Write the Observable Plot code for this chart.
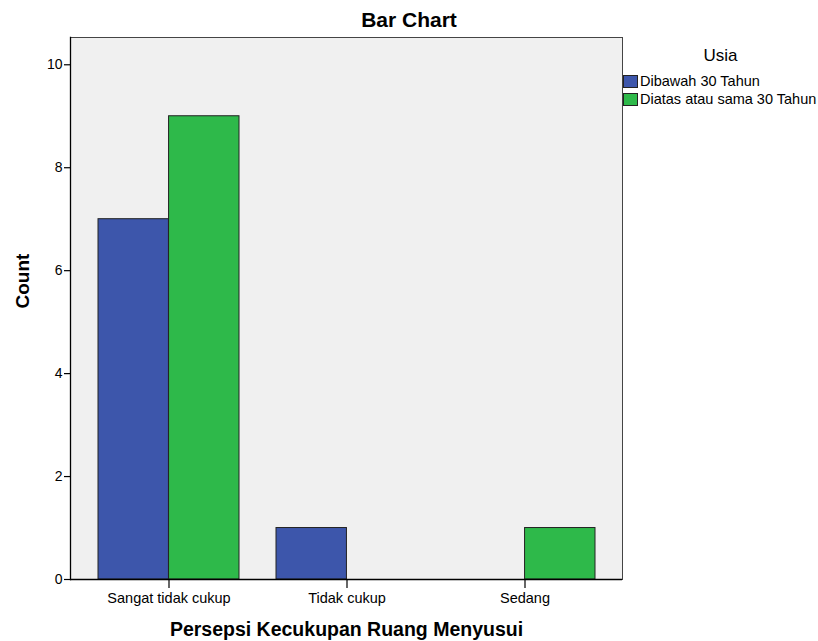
<!DOCTYPE html>
<html>
<head>
<meta charset="utf-8">
<script src="https://cdn.jsdelivr.net/npm/d3@7"></script>
<script src="https://cdn.jsdelivr.net/npm/@observablehq/plot@0.6"></script>
<style>
  html, body { margin: 0; padding: 0; background: #fff; }
  body { font-family: "Liberation Sans", Arial, sans-serif; }
  #wrap { position: relative; width: 818px; height: 641px; }
  #title { position: absolute; left: 0; width: 818px; top: 8px; text-align: center; font-weight: bold; font-size: 21px; color: #000; }
  #legend { position: absolute; left: 623px; top: 46px; font-size: 14.5px; color: #000; }
  #legend .lt { text-align: center; width: 195px; font-size: 17px; margin-bottom: 6px; }
  #legend .row { display: flex; align-items: center; height: 18px; white-space: nowrap; }
  #legend .sw { width: 15px; height: 13px; border: 1px solid #222; box-sizing: border-box; margin-right: 2px; }
</style>
</head>
<body>
<div id="wrap">
  <div id="chart"></div>
  <div id="title"></div>
  <div id="legend"></div>
</div>
<script>
const titleText = "Bar Chart";
const categories = ["Sangat tidak cukup", "Tidak cukup", "Sedang"];
const seriesNames = ["Dibawah 30 Tahun", "Diatas atau sama 30 Tahun"];
const seriesColors = ["#3d56ab", "#2eb94a"];
const dibawah30 = [7, 1, 0];
const diatas30 = [9, 0, 1];
const yTicks = [0, 2, 4, 6, 8, 10];
const xLabel = "Persepsi Kecukupan Ruang Menyusui";
const yLabel = "Count";
const legendTitle = "Usia";

const rows = [];
categories.forEach((c, i) => {
  rows.push({cat: c, series: seriesNames[0], value: dibawah30[i]});
  rows.push({cat: c, series: seriesNames[1], value: diatas30[i]});
});

const W = 818, H = 641;
const mL = 70, mR = 196, mT = 37, mB = 62;
const pIn = 0.208, pOut = 0.153;
const step = (W - mL - mR) / (categories.length - pIn + 2 * pOut);
const half = step * (1 - pIn) / 2;

const chart = Plot.plot({
  width: W,
  height: H,
  marginLeft: mL,
  marginRight: mR,
  marginTop: mT,
  marginBottom: mB,
  style: {fontFamily: "'Liberation Sans', Arial, sans-serif", fontSize: "13px", background: "#fff", color: "#000"},
  x: {domain: categories, paddingInner: pIn, paddingOuter: pOut, label: null, axis: null},
  y: {domain: [0, 10.53], label: null, axis: null},
  color: {domain: seriesNames, range: seriesColors},
  marks: [
    Plot.frame({fill: "#f0f0f0", stroke: "none"}),
    Plot.barY(rows.filter(d => d.series === seriesNames[0] && d.value > 0), {x: "cat", y: "value", fill: "series", stroke: "#222", strokeWidth: 1, insetRight: half}),
    Plot.barY(rows.filter(d => d.series === seriesNames[1] && d.value > 0), {x: "cat", y: "value", fill: "series", stroke: "#222", strokeWidth: 1, insetLeft: half}),
    Plot.frame({stroke: "#444", strokeWidth: 1, anchor: "top"}),
    Plot.frame({stroke: "#444", strokeWidth: 1, anchor: "right"}),
    Plot.ruleY([0], {stroke: "#000", strokeWidth: 1.3}),
    Plot.axisY(yTicks, {tickSize: 6, tickPadding: 2, fontSize: 14, tickFormat: d => String(d), stroke: "#000", strokeWidth: 1.2, color: "#000"}),
    Plot.axisX({tickSize: 9, tickPadding: 4, fontSize: 14.5, stroke: "#000", strokeWidth: 1.2, color: "#000"}),
    Plot.frame({stroke: "#000", strokeWidth: 1.3, anchor: "left"}),
    Plot.text([yLabel], {frameAnchor: "left", dx: -48, rotate: -90, fontSize: 19, fontWeight: "bold", fill: "#000", text: d => d}),
    Plot.text([xLabel], {frameAnchor: "bottom", dy: 56, fontSize: 19.5, fontWeight: "bold", fill: "#000", text: d => d})
  ]
});
document.getElementById("chart").appendChild(chart);

document.getElementById("title").textContent = titleText;
const leg = document.getElementById("legend");
const lt = document.createElement("div");
lt.className = "lt";
lt.textContent = legendTitle;
leg.appendChild(lt);
seriesNames.forEach((s, i) => {
  const r = document.createElement("div");
  r.className = "row";
  const sw = document.createElement("div");
  sw.className = "sw";
  sw.style.background = seriesColors[i];
  const t = document.createElement("span");
  t.textContent = s;
  r.appendChild(sw);
  r.appendChild(t);
  leg.appendChild(r);
});
</script>
</body>
</html>
